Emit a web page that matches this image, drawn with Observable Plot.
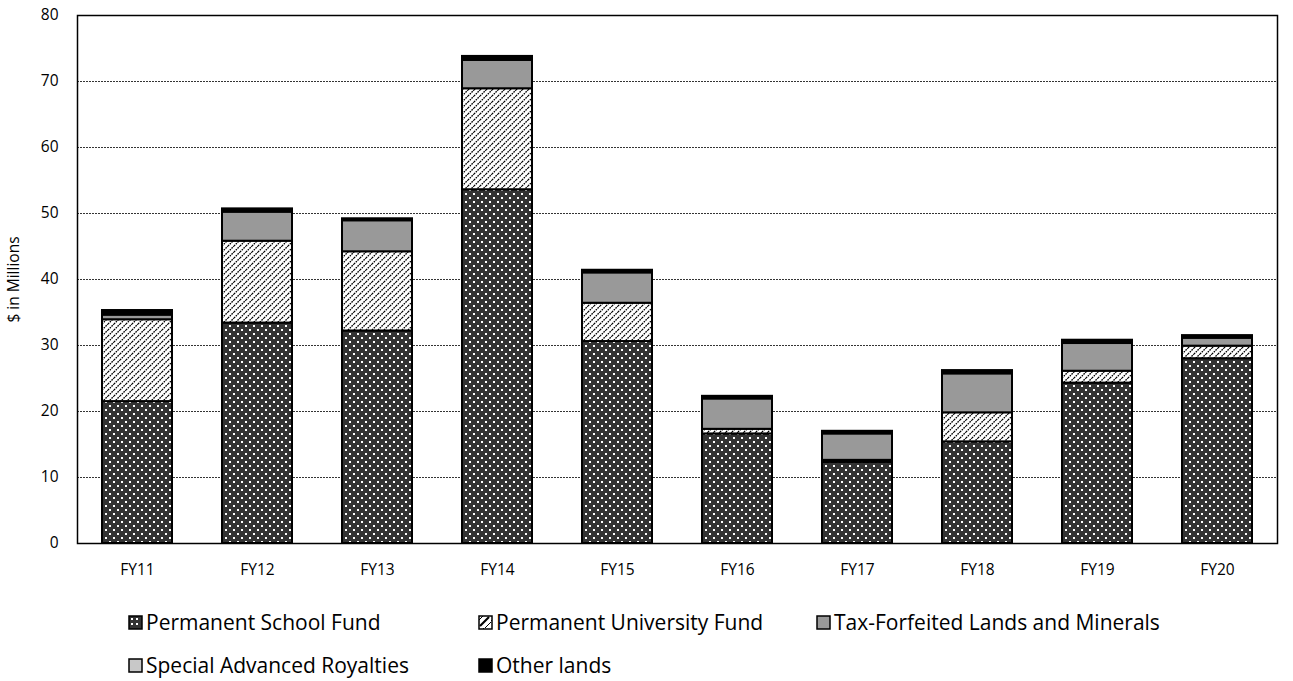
<!DOCTYPE html>
<html>
<head>
<meta charset="utf-8">
<script src="https://cdn.jsdelivr.net/npm/d3@7"></script>
<script src="https://cdn.jsdelivr.net/npm/@observablehq/plot@0.6"></script>
<style>
  body { margin: 0; background: #fff; font-family: "Open Sans", Lato, sans-serif; }
  #wrap { position: relative; width: 1293px; height: 681px; }
  #chart svg text { font-size: 15.5px; }
  .leg { position: absolute; display: flex; align-items: center; font-size: 21px; color: #000; white-space: nowrap; }
  .leg svg { margin-right: 3px; }
</style>
</head>
<body>
<div id="wrap"><div id="chart"></div></div>
<script>
const years = ["FY11","FY12","FY13","FY14","FY15","FY16","FY17","FY18","FY19","FY20"];
const seriesNames = ["Permanent School Fund","Permanent University Fund","Tax-Forfeited Lands and Minerals","Special Advanced Royalties","Other lands"];
const psf   = [21.5, 33.4, 32.2, 53.6, 30.6, 16.6, 12.3, 15.4, 24.3, 28.0];
const puf   = [12.4, 12.4, 12.0, 15.3,  5.8,  0.7,  0.3,  4.4,  1.8,  1.9];
const tax   = [ 0.7,  4.4,  4.7,  4.3,  4.6,  4.6,  4.0,  5.9,  4.2,  1.2];
const sar   = [ 0,    0,    0,    0,    0,    0,    0,    0,    0,    0  ];
const other = [ 0.7,  0.5,  0.3,  0.6,  0.4,  0.4,  0.4,  0.5,  0.5,  0.4];
const yTicks = [0,10,20,30,40,50,60,70,80];
const gridTicks = [10,20,30,40,50,60,70];

const seriesValues = [psf, puf, tax, sar, other];
const data = [];
years.forEach((yr, i) => {
  seriesNames.forEach((s, k) => {
    data.push({year: yr, series: s, value: seriesValues[k][i]});
  });
});
const fills = ["url(#psf)","url(#puf)","#999999","#c8c8c8","#000000"];

const chart = Plot.plot({
  width: 1293,
  height: 590,
  marginTop: 15,
  marginBottom: 47,
  marginLeft: 77,
  marginRight: 16,
  style: {fontFamily: "'Open Sans', Lato, sans-serif", fontSize: "15.5px", color: "#000", background: "#fff"},
  x: {domain: years, paddingInner: 0.42, paddingOuter: 0.21, label: null},
  y: {domain: [0, 80], label: null},
  color: {type: "ordinal", domain: seriesNames, range: fills},
  marks: [
    Plot.ruleY(gridTicks, {stroke: "#000", strokeWidth: 0.8, strokeDasharray: "2,1"}),
    Plot.barY(data.filter(d => d.value > 0), Plot.stackY({x: "year", y: "value", fill: "series", stroke: "#000", strokeWidth: 2})),
    Plot.axisY({ticks: yTicks, tickSize: 0, tickPadding: 19, label: "$ in Millions", labelAnchor: "center", labelArrow: "none", labelOffset: 70}),
    Plot.axisX({tickSize: 0, tickPadding: 20, label: null}),
    Plot.frame({stroke: "#000", strokeWidth: 1.5})
  ]
});

// pattern definitions
const ns = "http://www.w3.org/2000/svg";
const defs = document.createElementNS(ns, "defs");
defs.innerHTML = `
  <pattern id="psf" patternUnits="userSpaceOnUse" width="8" height="8">
    <rect width="8" height="8" fill="#333333"/>
    <rect x="1" y="1" width="2" height="2" fill="#ffffff"/>
    <rect x="5" y="5" width="2" height="2" fill="#ffffff"/>
  </pattern>
  <pattern id="puf" patternUnits="userSpaceOnUse" width="6" height="6">
    <rect width="6" height="6" fill="#ffffff"/>
    <path d="M-1,1 l2,-2 M0,6 l6,-6 M5,7 l2,-2" stroke="#000" stroke-width="1.3" stroke-dasharray="1.6,0.9"/>
  </pattern>
  <pattern id="psfLeg" patternUnits="userSpaceOnUse" width="13" height="13">
    <rect width="13" height="13" fill="#333333"/>
    <rect x="3" y="3" width="2" height="2" fill="#ffffff"/>
    <rect x="8" y="8" width="2" height="2" fill="#ffffff"/>
    <rect x="8" y="3" width="2" height="2" fill="#ffffff"/>
    <rect x="3" y="8" width="2" height="2" fill="#ffffff"/>
  </pattern>
  <pattern id="pufLeg" patternUnits="userSpaceOnUse" width="13" height="13">
    <rect width="13" height="13" fill="#ffffff"/>
    <path d="M2,11 L11,2" stroke="#000" stroke-width="2.2"/>
    <path d="M0,6 L6,0 M7,13 L13,7" stroke="#000" stroke-width="1"/>
  </pattern>`;
const svgEl = chart.tagName.toLowerCase() === "svg" ? chart : chart.querySelector("svg");
svgEl.insertBefore(defs, svgEl.firstChild);
document.getElementById("chart").appendChild(chart);

// legend
const legendItems = [
  {name: seriesNames[0], fill: "url(#psfLeg)", x: 128, y: 622},
  {name: seriesNames[1], fill: "url(#pufLeg)", x: 478, y: 622},
  {name: seriesNames[2], fill: "#999999", x: 816, y: 622},
  {name: seriesNames[3], fill: "#c8c8c8", x: 128, y: 665},
  {name: seriesNames[4], fill: "#000000", x: 478, y: 665}
];
const wrap = document.getElementById("wrap");
legendItems.forEach(it => {
  const div = document.createElement("div");
  div.className = "leg";
  div.style.left = it.x + "px";
  div.style.top = (it.y - 14) + "px";
  div.style.height = "28px";
  div.innerHTML = `<svg width="15" height="15"><rect x="1" y="1" width="13" height="13" fill="${it.fill}" stroke="#000" stroke-width="1.5"/></svg><span>${it.name}</span>`;
  wrap.appendChild(div);
});
</script>
</body>
</html>
